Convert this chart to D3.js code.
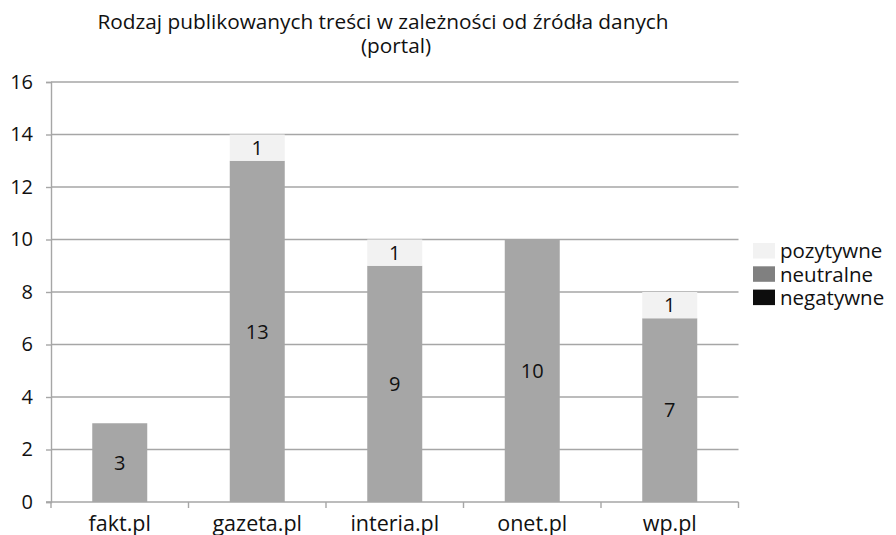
<!DOCTYPE html>
<html>
<head>
<meta charset="utf-8">
<script src="https://cdn.jsdelivr.net/npm/d3@7"></script>
<style>
  body { margin: 0; background: #fff; }
  svg { display: block; font-family: "Open Sans", sans-serif; }
</style>
</head>
<body>
<script>
const [width, height] = [896, 535];
const margin = ({top: 82, right: 157.5, bottom: 33, left: 51});

const titleLines = ["Rodzaj publikowanych treści w zależności od źródła danych", "(portal)"];
const categories = ["fakt.pl", "gazeta.pl", "interia.pl", "onet.pl", "wp.pl"];
const negatywne = [0, 0, 0, 0, 0];
const neutralne = [3, 13, 9, 10, 7];
const pozytywne = [0, 1, 1, 0, 1];
const seriesNames = ["negatywne", "neutralne", "pozytywne"];
const yTicks = [0, 2, 4, 6, 8, 10, 12, 14, 16];

// bar fills differ from the legend swatch for neutralne in the original
const barColors = {negatywne: "#0d0d0d", neutralne: "#a6a6a6", pozytywne: "#f2f2f2"};
const legendColors = {negatywne: "#0d0d0d", neutralne: "#808080", pozytywne: "#f2f2f2"};

const rows = categories.map((c, i) => ({
    category: c,
    negatywne: negatywne[i],
    neutralne: neutralne[i],
    pozytywne: pozytywne[i],
}));

const stacked = d3.stack().keys(seriesNames)(rows);

const svg = d3.select("body").append("svg")
    .attr("width", width)
    .attr("height", height)
    .attr("viewBox", [0, 0, width, height]);

const x = d3.scaleBand()
    .domain(categories)
    .range([margin.left, width - margin.right])
    .paddingInner(0.6)
    .paddingOuter(0.3);

const y = d3.scaleLinear()
    .domain([0, 16])
    .range([height - margin.bottom, margin.top]);

const gridColor = "#a6a6a6";
const textColor = "#111";

// gridlines
svg.append("g")
    .selectAll("line")
    .data(yTicks.filter(t => t > 0))
    .join("line")
        .attr("x1", margin.left)
        .attr("x2", width - margin.right)
        .attr("y1", d => y(d))
        .attr("y2", d => y(d))
        .attr("stroke", gridColor)
        .attr("stroke-width", 1.4);

// bars
svg.append("g")
    .selectAll("g")
    .data(stacked)
    .join("g")
        .attr("fill", d => barColors[d.key])
    .selectAll("rect")
    .data(d => d.filter(s => s[1] - s[0] > 0))
    .join("rect")
        .attr("x", d => x(d.data.category))
        .attr("y", d => y(d[1]))
        .attr("width", x.bandwidth())
        .attr("height", d => y(d[0]) - y(d[1]));

// value labels
svg.append("g")
    .attr("font-size", 20)
    .attr("fill", textColor)
    .attr("text-anchor", "middle")
    .selectAll("g")
    .data(stacked)
    .join("g")
    .selectAll("text")
    .data(d => d.filter(s => s[1] - s[0] > 0))
    .join("text")
        .attr("x", d => x(d.data.category) + x.bandwidth() / 2)
        .attr("y", d => y((d[0] + d[1]) / 2))
        .attr("dy", "0.36em")
        .text(d => d[1] - d[0]);

// y axis
const yAxis = (g) => g
    .attr("transform", `translate(${margin.left},0)`)
    .call(d3.axisLeft(y).tickValues(yTicks).tickSize(5).tickPadding(13))
    .call(g => g.selectAll("path, line").attr("stroke", gridColor).attr("stroke-width", 1.4))
    .call(g => g.selectAll("text").attr("font-size", 20).attr("fill", textColor)
        .attr("font-family", "Open Sans, sans-serif"));

svg.append("g").call(yAxis);

// x axis with ticks between categories
const xEdges = d3.range(categories.length + 1).map(i => margin.left + i * x.step());

const xAxisG = svg.append("g")
    .attr("transform", `translate(0,${y(0)})`);

xAxisG.append("line")
    .attr("x1", margin.left - 5)
    .attr("x2", width - margin.right)
    .attr("stroke", gridColor)
    .attr("stroke-width", 1.4);

xAxisG.selectAll(".edge")
    .data(xEdges)
    .join("line")
        .attr("class", "edge")
        .attr("x1", d => d)
        .attr("x2", d => d)
        .attr("y1", 0)
        .attr("y2", 6)
        .attr("stroke", gridColor)
        .attr("stroke-width", 1.4);

xAxisG.selectAll("text")
    .data(categories)
    .join("text")
        .attr("x", d => x(d) + x.bandwidth() / 2)
        .attr("y", 29)
        .attr("text-anchor", "middle")
        .attr("font-size", 21.5)
        .attr("fill", textColor)
        .text(d => d);

// title
svg.append("g")
    .attr("font-size", 20.8)
    .attr("fill", textColor)
    .attr("text-anchor", "middle")
    .selectAll("text")
    .data(titleLines)
    .join("text")
        .attr("x", (d, i) => i === 0 ? 383 : 396)
        .attr("y", (d, i) => 29 + i * 24)
        .text(d => d);

// legend
const legendItems = ["pozytywne", "neutralne", "negatywne"];
const legend = svg.append("g")
    .attr("transform", "translate(753,243)");

const item = legend.selectAll("g")
    .data(legendItems)
    .join("g")
        .attr("transform", (d, i) => `translate(0,${i * 23.3})`);

item.append("rect")
    .attr("width", 22)
    .attr("height", 15.5)
    .attr("fill", d => legendColors[d]);

item.append("text")
    .attr("x", 27)
    .attr("y", 8)
    .attr("dy", "0.36em")
    .attr("font-size", 20.5)
    .attr("fill", textColor)
    .text(d => d);
</script>
</body>
</html>
